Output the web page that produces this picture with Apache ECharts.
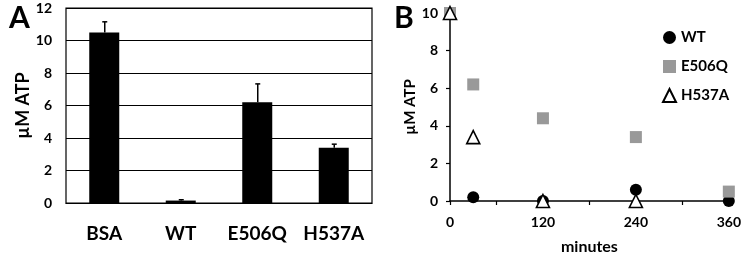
<!DOCTYPE html>
<html><head><meta charset="utf-8">
<script src="https://cdn.jsdelivr.net/npm/echarts@6/dist/echarts.min.js"></script>
<style>html,body{margin:0;padding:0;background:#fff}#c{width:744px;height:260px}</style>
</head><body><div id="c"></div>
<script>
// Panel A
const barCategories = ['BSA', 'WT', 'E506Q', 'H537A'];
const barValues = [10.5, 0.15, 6.2, 3.4];
const barErrorTops = [11.15, 0.2, 7.33, 3.62];
const aTicks = [0, 2, 4, 6, 8, 10, 12];
// Panel B (minutes, µM ATP)
const minutes = [0, 30, 120, 240, 360];
const wtValues = [10, 0.2, 0, 0.6, 0];
const e506qValues = [10, 6.2, 4.4, 3.4, 0.5];
const h537aValues = [10, 3.4, 0, 0, null];
const bXLabels = [0, 120, 240, 360];

const FONT = 'Lato';
const pairs = vals => minutes.map((m, i) => [m, vals[i]]).filter(p => p[1] !== null);

const chart = echarts.init(document.getElementById('c'));
chart.setOption({
  animation: false,
  textStyle: { fontFamily: FONT },
  title: [
    { text: 'A', left: 4, top: -2, textStyle: { fontSize: 30, fontWeight: 'bold', color: '#000', fontFamily: FONT } },
    { text: 'B', left: 389, top: -2, textStyle: { fontSize: 30, fontWeight: 'bold', color: '#000', fontFamily: FONT } }
  ],
  legend: {
    data: ['WT', 'E506Q', 'H537A'],
    orient: 'vertical', left: 657, top: 25, itemGap: 14,
    itemWidth: 13, itemHeight: 13,
    textStyle: { fontSize: 15, fontWeight: 'bold', color: '#000', fontFamily: FONT }
  },
  grid: [
    { left: 66, top: 8, width: 306, height: 195, show: true, borderColor: '#000', borderWidth: 1.2, backgroundColor: 'transparent' },
    { left: 450, top: 13, width: 280, height: 190 }
  ],
  xAxis: [
    { type: 'category', gridIndex: 0, data: barCategories,
      axisLine: { lineStyle: { color: '#000', width: 1.2 } }, axisTick: { show: false },
      axisLabel: { interval: 0, hideOverlap: false, margin: 21, fontSize: 19, fontWeight: 'bold', color: '#000', fontFamily: FONT } },
    { type: 'value', gridIndex: 1, min: 0, max: 360, interval: 60,
      name: 'minutes', nameLocation: 'middle', nameGap: 38,
      nameTextStyle: { fontSize: 16, fontWeight: 'bold', color: '#000', fontFamily: FONT },
      axisLine: { onZero: false, lineStyle: { color: '#000', width: 1.5 } },
      axisTick: { show: true, length: 4, lineStyle: { color: '#000', width: 1.2 } },
      splitLine: { show: false },
      axisLabel: { margin: 14, fontSize: 14, fontWeight: 'bold', color: '#000', fontFamily: FONT,
        formatter: v => bXLabels.indexOf(v) >= 0 ? String(v) : '' } }
  ],
  yAxis: [
    { type: 'value', gridIndex: 0, min: aTicks[0], max: aTicks[aTicks.length - 1], interval: 2,
      name: 'µM ATP', nameLocation: 'middle', nameGap: 33, nameRotate: 90,
      nameTextStyle: { fontSize: 18, fontWeight: 'bold', color: '#000', fontFamily: FONT },
      axisLine: { show: false }, axisTick: { show: false },
      splitLine: { lineStyle: { color: '#000', width: 1.2 } },
      axisLabel: { margin: 14, fontSize: 14, fontWeight: 'bold', color: '#000', fontFamily: FONT } },
    { type: 'value', gridIndex: 1, min: 0, max: 10, interval: 2,
      name: 'µM ATP', nameLocation: 'middle', nameGap: 30, nameRotate: 90,
      nameTextStyle: { fontSize: 15, fontWeight: 'bold', color: '#000', fontFamily: FONT },
      axisLine: { show: true, lineStyle: { color: '#000', width: 1.5 } },
      axisTick: { show: true, length: 4, lineStyle: { color: '#000', width: 1.2 } },
      splitLine: { show: false },
      axisLabel: { margin: 12, fontSize: 14, fontWeight: 'bold', color: '#000', fontFamily: FONT } }
  ],
  series: [
    { type: 'bar', xAxisIndex: 0, yAxisIndex: 0, data: barValues, barWidth: 30,
      itemStyle: { color: '#000' }, z: 3 },
    { type: 'custom', xAxisIndex: 0, yAxisIndex: 0, z: 4,
      data: barCategories.map((c, i) => [i, barValues[i], barErrorTops[i]]),
      renderItem: (params, api) => {
        const base = api.coord([api.value(0), api.value(1)]);
        const top = api.coord([api.value(0), api.value(2)]);
        const x = base[0] + 0.5;
        return { type: 'group', children: [
          { type: 'line', shape: { x1: x, y1: base[1], x2: x, y2: top[1] }, style: { stroke: '#000', lineWidth: 1.5 } },
          { type: 'line', shape: { x1: x - 2.5, y1: top[1], x2: x + 2.5, y2: top[1] }, style: { stroke: '#000', lineWidth: 1.5 } }
        ] };
      } },
    { name: 'WT', type: 'scatter', xAxisIndex: 1, yAxisIndex: 1, data: pairs(wtValues),
      symbol: 'circle', symbolSize: 12, itemStyle: { color: '#000', opacity: 1 }, z: 3 },
    { name: 'E506Q', type: 'scatter', xAxisIndex: 1, yAxisIndex: 1, data: pairs(e506qValues),
      symbol: 'rect', symbolSize: 12, itemStyle: { color: '#999', opacity: 1 }, z: 4 },
    { name: 'H537A', type: 'scatter', xAxisIndex: 1, yAxisIndex: 1, data: pairs(h537aValues),
      symbol: 'triangle', symbolSize: 13, itemStyle: { color: '#fff', borderColor: '#000', borderWidth: 1.6, opacity: 1 }, z: 5 }
  ]
});
</script></body></html>
